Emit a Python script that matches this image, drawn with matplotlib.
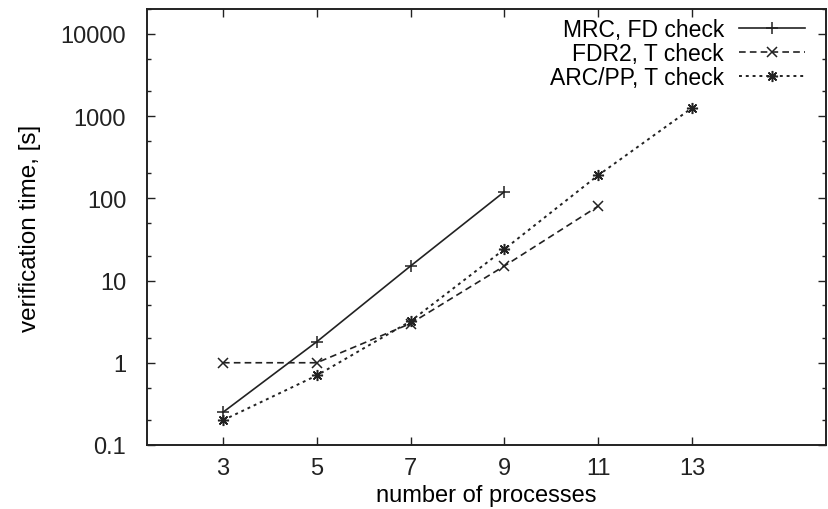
import matplotlib
matplotlib.use("Agg")
import matplotlib.pyplot as plt
from matplotlib.ticker import FixedLocator, FixedFormatter, LogLocator, NullFormatter

plt.rcParams['font.family'] = ['Liberation Sans', 'DejaVu Sans']

mrc_x = [3, 5, 7, 9]
mrc_y = [0.25, 1.8, 15, 120]
fdr_x = [3, 5, 7, 9, 11]
fdr_y = [1.0, 1.0, 3.0, 15, 80]
arc_x = [3, 5, 7, 9, 11, 13]
arc_y = [0.2, 0.7, 3.2, 24, 190, 1250]

xticks = [3, 5, 7, 9, 11, 13]
yticks = [0.1, 1, 10, 100, 1000, 10000]
ytick_labels = ["0.1", "1", "10", "100", "1000", "10000"]

fig = plt.figure(figsize=(8.29, 5.10), dpi=100)
ax = fig.add_axes([147/829, 64/510, (826-147)/829, (446-10)/510])

col = '#222222'
ax.plot(mrc_x, mrc_y, '-', color=col, lw=1.2, marker='+', ms=8, mew=1.1,
        label='MRC, FD check')
ax.plot(fdr_x, fdr_y, color=col, lw=1.2, ls=(0, (4, 2.5)), marker='x', ms=7, mew=1.1,
        label='FDR2, T check')
ax.plot(arc_x, arc_y, color=col, lw=1.4, ls=(0, (1.5, 2)), marker=(8, 2, 0), ms=8, mew=1.1,
        label='ARC/PP, T check')

ax.set_yscale('log')
ax.set_xlim(1.38, 15.86)
ax.set_ylim(0.1, 20000)
ax.xaxis.set_major_locator(FixedLocator(xticks))
ax.yaxis.set_major_locator(FixedLocator(yticks))
ax.yaxis.set_major_formatter(FixedFormatter(ytick_labels))
ax.yaxis.set_minor_locator(LogLocator(base=10, subs=(2.0, 5.0)))
ax.yaxis.set_minor_formatter(NullFormatter())

ax.tick_params(axis='both', which='both', direction='in', top=True, right=True,
               labelsize=17, colors='#222222', width=1.0)
ax.tick_params(axis='y', which='major', length=6, pad=15)
ax.tick_params(axis='x', which='major', length=6, pad=9)
ax.tick_params(which='minor', length=3)
for s in ax.spines.values():
    s.set_linewidth(1.4)
    s.set_color('#222222')

ax.set_xlabel('number of processes', fontsize=17, labelpad=3)
ax.set_ylabel('verification time, [s]', fontsize=17.5, labelpad=14)

leg = ax.legend(loc='upper right', frameon=False, markerfirst=False, fontsize=16.5,
                handlelength=2.9, handletextpad=0.65, labelspacing=0.05,
                borderaxespad=0.0, bbox_to_anchor=(0.983, 1.0))
for t in leg.get_texts():
    t.set_ha('right')

fig.savefig('out.png', dpi=100)
